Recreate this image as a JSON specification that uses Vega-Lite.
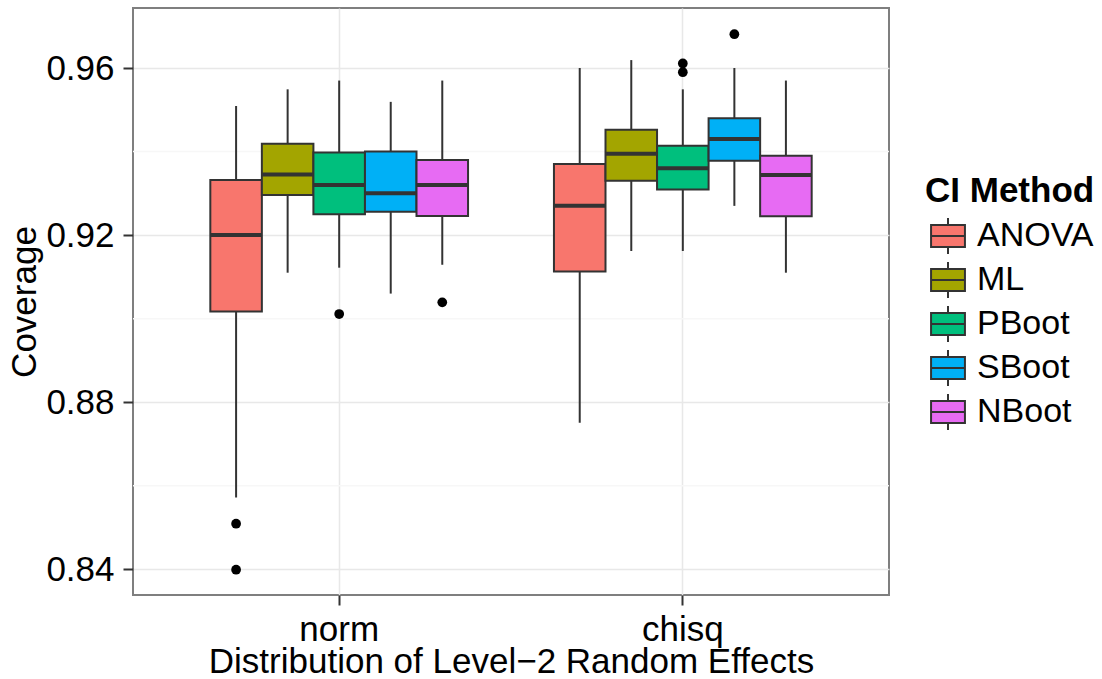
{
  "$schema": "https://vega.github.io/schema/vega-lite/v6.json",
  "width": 756,
  "height": 587,
  "autosize": {"type": "none"},
  "padding": {"left": 133, "top": 8, "right": 213, "bottom": 84},
  "background": "white",
  "datasets": {
    "stats": [
      {"dist": "norm", "method": "ANOVA", "lower": 0.8572, "q1": 0.9017, "median": 0.9200, "q3": 0.9332, "upper": 0.9509},
      {"dist": "norm", "method": "ML", "lower": 0.9110, "q1": 0.9296, "median": 0.9345, "q3": 0.9419, "upper": 0.9549},
      {"dist": "norm", "method": "PBoot", "lower": 0.9122, "q1": 0.9250, "median": 0.9320, "q3": 0.9398, "upper": 0.9570},
      {"dist": "norm", "method": "SBoot", "lower": 0.9060, "q1": 0.9256, "median": 0.9300, "q3": 0.9400, "upper": 0.9519},
      {"dist": "norm", "method": "NBoot", "lower": 0.9129, "q1": 0.9246, "median": 0.9320, "q3": 0.9380, "upper": 0.9570},
      {"dist": "chisq", "method": "ANOVA", "lower": 0.8751, "q1": 0.9113, "median": 0.9270, "q3": 0.9370, "upper": 0.9600},
      {"dist": "chisq", "method": "ML", "lower": 0.9162, "q1": 0.9330, "median": 0.9395, "q3": 0.9452, "upper": 0.9619},
      {"dist": "chisq", "method": "PBoot", "lower": 0.9162, "q1": 0.9309, "median": 0.9360, "q3": 0.9414, "upper": 0.9549},
      {"dist": "chisq", "method": "SBoot", "lower": 0.9270, "q1": 0.9378, "median": 0.9430, "q3": 0.9480, "upper": 0.9600},
      {"dist": "chisq", "method": "NBoot", "lower": 0.9110, "q1": 0.9245, "median": 0.9344, "q3": 0.9390, "upper": 0.9570}
    ],
    "outliers": [
      {"dist": "norm", "method": "ANOVA", "coverage": 0.8509},
      {"dist": "norm", "method": "ANOVA", "coverage": 0.8399},
      {"dist": "norm", "method": "PBoot", "coverage": 0.9011},
      {"dist": "norm", "method": "NBoot", "coverage": 0.9039},
      {"dist": "chisq", "method": "PBoot", "coverage": 0.9611},
      {"dist": "chisq", "method": "PBoot", "coverage": 0.9590},
      {"dist": "chisq", "method": "SBoot", "coverage": 0.9681}
    ],
    "minor": [{"g": 0.86}, {"g": 0.90}, {"g": 0.94}]
  },
  "layer": [
    {
      "data": {"name": "minor"},
      "mark": {"type": "rule", "color": "#f7f7f7", "strokeWidth": 1.5},
      "encoding": {
        "y": {"field": "g", "type": "quantitative", "title": "Coverage",
              "scale": {"domain": [0.83384, 0.97437], "nice": false, "zero": false},
              "axis": {"values": [0.84, 0.88, 0.92, 0.96], "format": ".2f"}}
      }
    },
    {
      "data": {"name": "stats"},
      "mark": {"type": "rule", "color": "#333333", "strokeWidth": 2},
      "encoding": {
        "x": {"field": "dist", "type": "nominal", "sort": ["norm", "chisq"], "title": "Distribution of Level\u22122 Random Effects",
              "scale": {"paddingInner": 0.25, "paddingOuter": 0.225}},
        "xOffset": {"field": "method", "type": "nominal", "sort": ["ANOVA", "ML", "PBoot", "SBoot", "NBoot"],
                    "scale": {"paddingInner": 0, "paddingOuter": 0}},
        "y": {"field": "lower", "type": "quantitative", "title": "Coverage",
              "axis": {"values": [0.84, 0.88, 0.92, 0.96], "format": ".2f"}},
        "y2": {"field": "upper"}
      }
    },
    {
      "data": {"name": "stats"},
      "mark": {"type": "bar", "stroke": "#333333", "strokeWidth": 2, "opacity": 1},
      "encoding": {
        "x": {"field": "dist", "type": "nominal", "sort": ["norm", "chisq"], "title": "Distribution of Level\u22122 Random Effects"},
        "xOffset": {"field": "method", "type": "nominal", "sort": ["ANOVA", "ML", "PBoot", "SBoot", "NBoot"]},
        "y": {"field": "q3", "type": "quantitative", "title": "Coverage",
              "axis": {"values": [0.84, 0.88, 0.92, 0.96], "format": ".2f"}},
        "y2": {"field": "q1"},
        "fill": {"field": "method", "type": "nominal", "sort": ["ANOVA", "ML", "PBoot", "SBoot", "NBoot"],
                 "title": "CI Method",
                 "scale": {"domain": ["ANOVA", "ML", "PBoot", "SBoot", "NBoot"],
                           "range": ["#F8766D", "#A3A500", "#00BF7D", "#00B0F6", "#E76BF3"]},
                 "legend": {
                   "orient": "none", "legendX": 792, "legendY": 166,
                   "symbolType": "M-0.77,-0.5H0.77V0.5H-0.77Z M-0.77,0H0.77 M0,-0.5V-0.82 M0,0.5V0.82",
                   "symbolSize": 1936, "symbolStrokeColor": "#333333", "symbolStrokeWidth": 2, "symbolOpacity": 1,
                   "clipHeight": 44, "rowPadding": 0, "labelOffset": 6, "padding": 0,
                   "labelFontSize": 34, "labelColor": "black", "labelFont": "Liberation Sans",
                   "titleFontSize": 35, "titleFontWeight": "bold", "titleColor": "black", "titleFont": "Liberation Sans",
                   "titlePadding": 5
                 }}
      }
    },
    {
      "data": {"name": "stats"},
      "mark": {"type": "tick", "color": "#333333", "thickness": 4, "size": 51.6, "opacity": 1},
      "encoding": {
        "x": {"field": "dist", "type": "nominal", "sort": ["norm", "chisq"], "title": "Distribution of Level\u22122 Random Effects"},
        "xOffset": {"field": "method", "type": "nominal", "sort": ["ANOVA", "ML", "PBoot", "SBoot", "NBoot"]},
        "y": {"field": "median", "type": "quantitative", "title": "Coverage",
              "axis": {"values": [0.84, 0.88, 0.92, 0.96], "format": ".2f"}}
      }
    },
    {
      "data": {"name": "outliers"},
      "mark": {"type": "circle", "color": "black", "opacity": 1, "size": 95},
      "encoding": {
        "x": {"field": "dist", "type": "nominal", "sort": ["norm", "chisq"], "title": "Distribution of Level\u22122 Random Effects"},
        "xOffset": {"field": "method", "type": "nominal", "sort": ["ANOVA", "ML", "PBoot", "SBoot", "NBoot"]},
        "y": {"field": "coverage", "type": "quantitative", "title": "Coverage",
              "axis": {"values": [0.84, 0.88, 0.92, 0.96], "format": ".2f"}}
      }
    },
    {
      "mark": {"type": "rule", "color": "black", "strokeWidth": 2},
      "encoding": {
        "y": {"datum": 0.95, "type": "quantitative", "title": "Coverage",
              "axis": {"values": [0.84, 0.88, 0.92, 0.96], "format": ".2f"}}
      }
    }
  ],
  "config": {
    "font": "Liberation Sans",
    "view": {"stroke": "#7f7f7f", "strokeWidth": 2},
    "axis": {
      "domain": false,
      "labelFontSize": 35, "labelColor": "black", "labelFont": "Liberation Sans",
      "titleFontSize": 35, "titleFontWeight": "normal", "titleColor": "black", "titleFont": "Liberation Sans",
      "tickColor": "#333333", "tickSize": 10, "tickWidth": 2,
      "gridColor": "#e8e8e8", "gridWidth": 1.5
    },
    "axisY": {"labelPadding": 9, "titlePadding": 3},
    "axisX": {"labelAngle": 0, "labelPadding": 7, "titlePadding": -3, "bandPosition": 0.5, "grid": true}
  }
}
